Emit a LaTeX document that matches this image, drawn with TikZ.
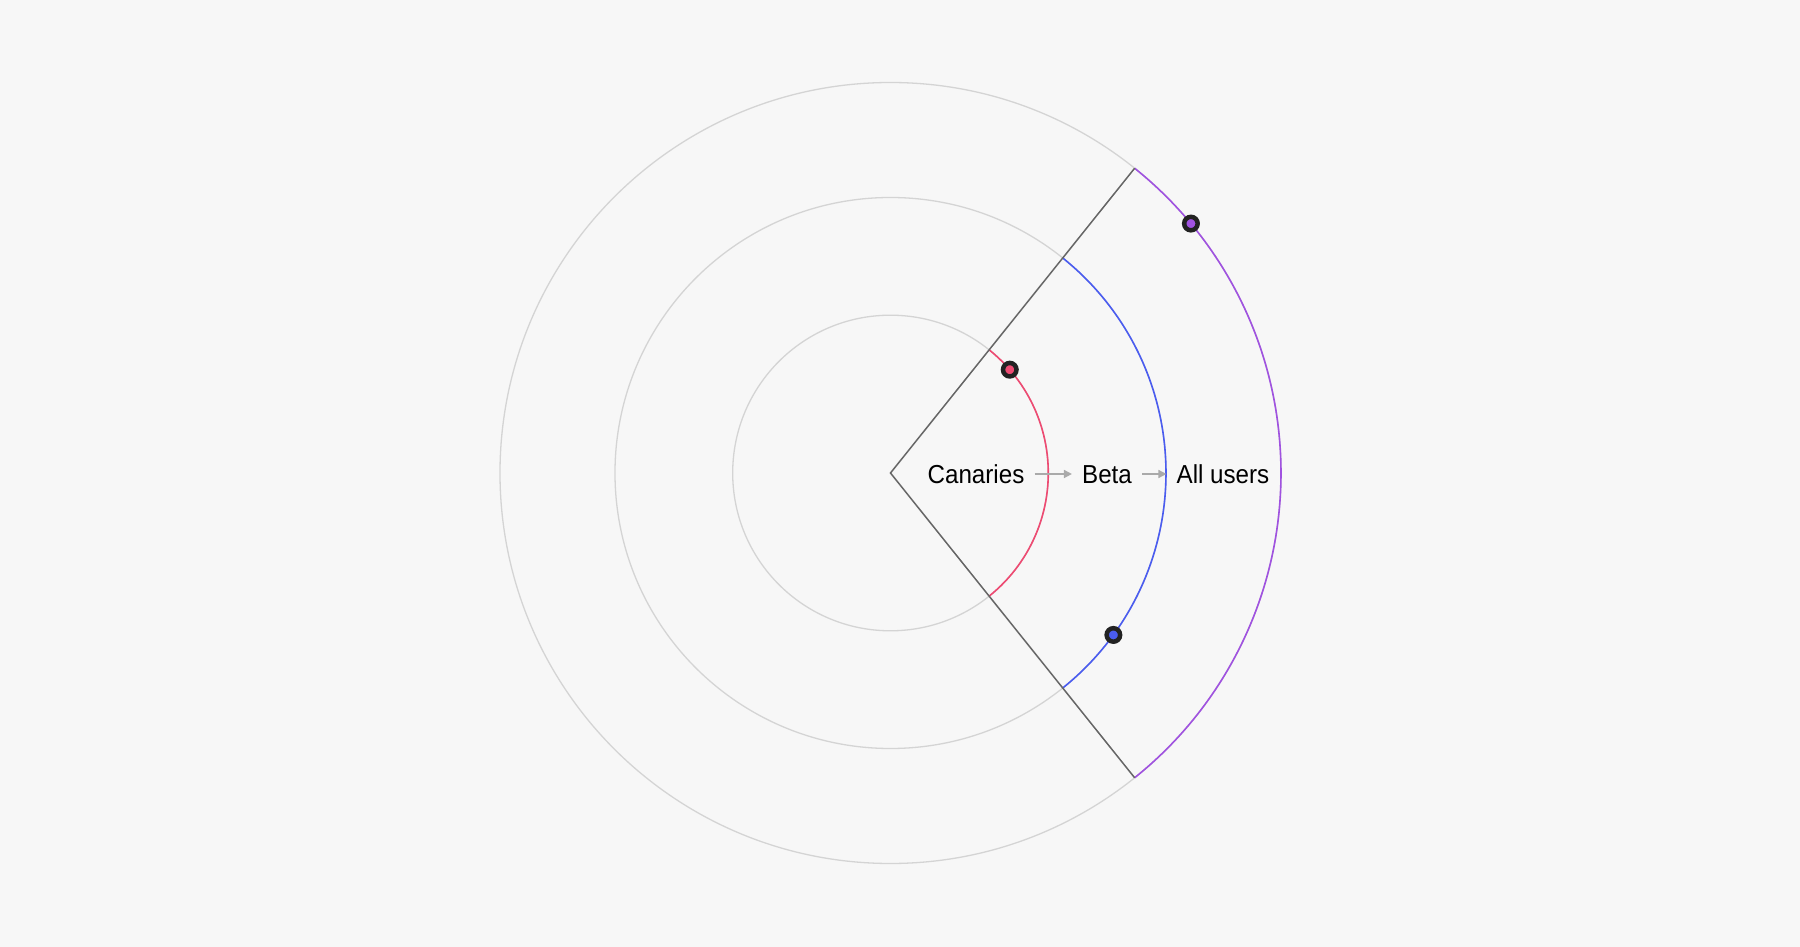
\documentclass[tikz,border=0pt]{standalone}
\usepackage{fontspec}
\setmainfont{Liberation Sans}[FakeStretch=0.93]
\usetikzlibrary{arrows.meta,calc}
\definecolor{bg}{HTML}{F7F7F7}
\definecolor{ring}{HTML}{D4D4D4}
\definecolor{wedge}{HTML}{666666}
\definecolor{cred}{HTML}{EE4A72}
\definecolor{cblue}{HTML}{4A5CF0}
\definecolor{cpurple}{HTML}{A052E0}
\definecolor{dotring}{HTML}{222222}
\definecolor{arr}{HTML}{AAAAAA}
\tikzset{
  ringline/.style={draw=ring, line width=1.3pt},
  wedgeline/.style={draw=wedge, line width=1.5pt},
  arcline/.style={line width=1.6pt},
  dotnode/.style={circle, draw=dotring, line width=4.5pt, minimum size=13.5pt, inner sep=0pt},
  lbl/.style={inner sep=0pt, anchor=base, font=\fontsize{26}{30}\selectfont, text height=19pt, text depth=0pt},
  flow/.style={draw=arr, line width=1.5pt, -{Triangle[length=8pt,width=8pt]}, shorten <=10pt, shorten >=10pt}
}
\begin{document}
\begin{tikzpicture}[x=1pt,y=1pt]
\fill[bg] (-890.5,-474) rectangle (909.5,473);
\useasboundingbox (-890.5,-474) rectangle (909.5,473);
\coordinate (c) at (0,0);
\def\wa{51.3}
\def\ra{157.8}
\def\rb{275.5}
\def\rc{390.5}
% gray rings
\draw[ringline] (c) circle[radius=\ra];
\draw[ringline] (c) circle[radius=\rb];
\draw[ringline] (c) circle[radius=\rc];
% colored arcs
\draw[arcline, cred] ($(c)+(-\wa:\ra)$) arc[start angle=-\wa, end angle=\wa, radius=\ra];
\draw[arcline, cblue] ($(c)+(-\wa:\rb)$) arc[start angle=-\wa, end angle=\wa, radius=\rb];
\draw[arcline, cpurple] ($(c)+(-\wa:\rc)$) arc[start angle=-\wa, end angle=\wa, radius=\rc];
% wedge
\coordinate (wt) at (\wa:\rc);
\coordinate (wb) at (-\wa:\rc);
\draw[wedgeline, line join=miter] (wt) -- (c) -- (wb);
% dots
\node[dotnode, fill=cred] (d1) at (40.9:\ra) {};
\node[dotnode, fill=cblue] (d2) at (-36:\rb) {};
\node[dotnode, fill=cpurple] (d3) at (39.7:\rc) {};
% labels
\node[lbl] (can) at (85.5,-10.5) {Canaries};
\node[lbl] (beta) at (216.5,-10.5) {Beta};
\node[lbl] (all) at (332.5,-10.5) {All users};
\draw[flow] (can.east) -- (beta.west);
\draw[flow] (beta.east) -- (all.west);
\end{tikzpicture}
\end{document}
